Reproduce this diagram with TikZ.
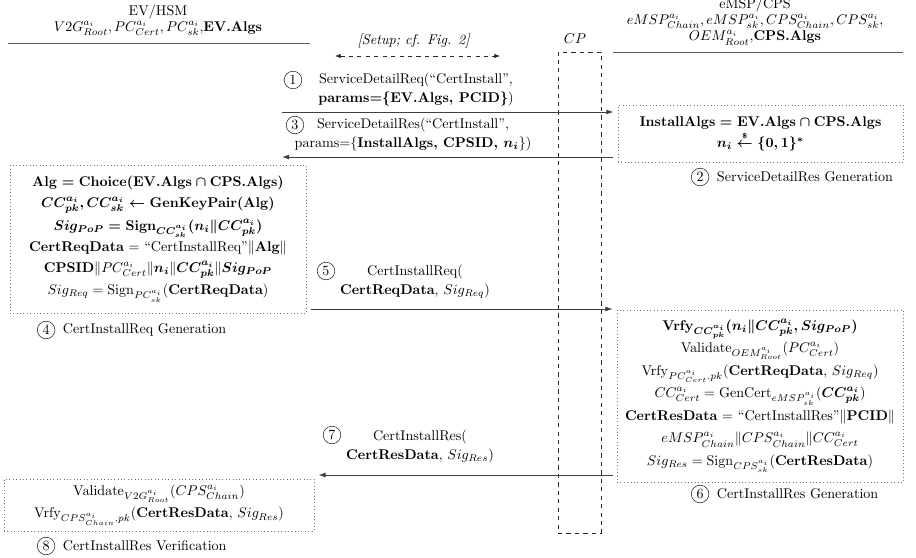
\documentclass[tikz,border=0pt]{standalone}
\usepackage{amsmath,amssymb}
\usepackage{tikz}
\usetikzlibrary{positioning, arrows.meta, calc}

\begin{document}
\begin{tikzpicture}[
    x=0.71pt, y=-0.71pt,
    % Block Styles
    procbox/.style={rectangle, draw=black!55, dotted, align=center, inner sep=2pt},
    numc/.style={circle, draw=black!85, inner sep=0.6pt, minimum size=12.5pt},
    msgtxt/.style={align=center, font=\fontsize{10}{13.5}\selectfont},
    party/.style={align=center, font=\fontsize{10}{11.5}\selectfont},
    cpbox/.style={rectangle, draw=black!85, dashed, minimum width=30.5pt, minimum height=341.5pt},
    % Line & Arrow Styles
    msg/.style={draw=black!75, line width=0.6pt, -{Latex[length=5pt, width=3.5pt]}, shorten >=3pt, shorten <=3pt},
    setuparr/.style={draw=black!85, dashed, {Latex[length=4pt, width=3pt]}-{Latex[length=4pt, width=3pt]}},
    rule/.style={draw=black!65, line width=0.7pt}
]
    \useasboundingbox (0,0) rectangle (916,557);

    % Parties
    \node [party] (ev) at (158,20) {EV/HSM\\ $V2G^{a_i}_{Root}, PC^{a_i}_{Cert}, PC^{a_i}_{sk}$,\textbf{EV.Algs}};
    \node [party, anchor=north] (cps) at (755,-7) {eMSP/CPS\\ $eMSP^{a_i}_{Chain}, eMSP^{a_i}_{sk}, CPS^{a_i}_{Chain}, CPS^{a_i}_{sk}$,\\ $OEM^{a_i}_{Root}$,\textbf{CPS.Algs}};
    \draw [rule] (8,43) -- (310,43);
    \draw [rule] (613,52) -- (903,52);

    % Charge point
    \node [cpbox] (cp) at (579.5,292.5) {};
    \node (cplbl) at (575,39) {$CP$};

    % Setup phase
    \node (setup) at (414,41) {\textit{[Setup; cf. Fig. 2]}};
    \coordinate (su-l) at (335,56);
    \coordinate (su-r) at (500,56);
    \draw [setuparr] (su-l) -- (su-r);

    % Processing boxes
    \node [procbox, minimum width=202.4pt, minimum height=40.5pt, font=\fontsize{10}{15}\selectfont] (svcgen) at (760.5,133.5)
        {{\boldmath $\mathbf{InstallAlgs} = \mathbf{EV.Algs} \cap \mathbf{CPS.Algs}$}\\
         {\boldmath $n_i \overset{\scriptscriptstyle\$}{\leftarrow} \{0,1\}^*$}};
    \node [procbox, minimum width=210.2pt, minimum height=105.1pt, font=\fontsize{10}{15}\selectfont] (reqgen) at (158,239)
        {{\boldmath $\mathbf{Alg} = \mathbf{Choice}(\mathbf{EV.Algs} \cap \mathbf{CPS.Algs})$}\\
         {\boldmath $CC^{a_i}_{pk}, CC^{a_i}_{sk} \leftarrow \mathbf{GenKeyPair}(\mathbf{Alg})$}\\[1pt]
         {\boldmath $Sig_{PoP} = \mathbf{Sign}_{CC^{a_i}_{sk}}(n_i \| CC^{a_i}_{pk})$}\\
         \textbf{CertReqData} $=$ “CertInstallReq”$\|$\textbf{Alg}$\|$\\
         \textbf{CPSID}$\|PC^{a_i}_{Cert}\|\boldsymbol{n_i}\|\boldsymbol{CC^{a_i}_{pk}}\|\boldsymbol{Sig_{PoP}}$\\[1pt]
         $Sig_{Req} = \mathrm{Sign}_{PC^{a_i}_{sk}}($\textbf{CertReqData}$)$};
    \node [procbox, minimum width=203pt, minimum height=122.1pt, font=\fontsize{10}{16}\selectfont] (resgen) at (760,396)
        {{\boldmath $\mathbf{Vrfy}_{CC^{a_i}_{pk}}(n_i \| CC^{a_i}_{pk}, Sig_{PoP})$}\\
         $\mathrm{Validate}_{OEM^{a_i}_{Root}}(PC^{a_i}_{Cert})$\\
         $\mathrm{Vrfy}_{PC^{a_i}_{Cert}.pk}($\textbf{CertReqData}, $Sig_{Req})$\\
         $CC^{a_i}_{Cert} = \mathrm{GenCert}_{eMSP^{a_i}_{sk}}(\boldsymbol{CC^{a_i}_{pk}})$\\
         \textbf{CertResData} $=$ “CertInstallRes”$\|$\textbf{PCID}$\|$\\
         $eMSP^{a_i}_{Chain}\|CPS^{a_i}_{Chain}\|CC^{a_i}_{Cert}$\\
         $Sig_{Res} = \mathrm{Sign}_{CPS^{a_i}_{sk}}($\textbf{CertResData}$)$};
    \node [procbox, minimum width=220.1pt, minimum height=36.9pt, font=\fontsize{10}{16}\selectfont] (resver) at (159,505)
        {$\mathrm{Validate}_{V2G^{a_i}_{Root}}(CPS^{a_i}_{Chain})$\\
         $\mathrm{Vrfy}_{CPS^{a_i}_{Chain}.pk}($\textbf{CertResData}, $Sig_{Res})$};

    % Step labels
    \node [anchor=west] (lbl2) at (712,177) {ServiceDetailRes Generation};
    \node [numc, left=2pt of lbl2] (n2) {2};
    \node [anchor=west] (lbl4) at (58,330) {CertInstallReq Generation};
    \node [numc, left=2pt of lbl4] (n4) {4};
    \node [anchor=west] (lbl6) at (712,494) {CertInstallRes Generation};
    \node [numc, left=2pt of lbl6] (n6) {6};
    \node [anchor=west] (lbl8) at (58,546) {CertInstallRes Verification};
    \node [numc, left=2pt of lbl8] (n8) {8};

    % Messages
    \node [numc] (n1) at (293,80) {1};
    \node [msgtxt] (msg1) at (416,89) {ServiceDetailReq(“CertInstall”,\\ \textbf{params=\{EV.Algs, PCID\}})};
    \node [numc] (n3) at (295,125) {3};
    \node [msgtxt] (msg3) at (413,134) {ServiceDetailRes(“CertInstall”,\\ params=\{\textbf{InstallAlgs, CPSID, $\boldsymbol{n_i}$}\})};
    \node [numc] (n5) at (326,271) {5};
    \node [msgtxt] (msg5) at (415,282) {CertInstallReq(\\ \textbf{CertReqData}, $Sig_{Req}$)};
    \node [numc] (n7) at (332,435) {7};
    \node [msgtxt] (msg7) at (420,446) {CertInstallRes(\\ \textbf{CertResData}, $Sig_{Res}$)};

    \coordinate (m1) at (282,112);
    \coordinate (m3) at (282,157);
    \coordinate (m5) at (0,309);
    \coordinate (m7) at (0,475);
    \draw [msg, shorten <=0pt] (m1) -- (m1 -| svcgen.west);
    \draw [msg, shorten >=0pt] (m3 -| svcgen.west) -- (m3);
    \draw [msg] (m5 -| reqgen.east) -- (m5 -| resgen.west);
    \draw [msg] (m7 -| resgen.west) -- (m7 -| resver.east);

\end{tikzpicture}
\end{document}
